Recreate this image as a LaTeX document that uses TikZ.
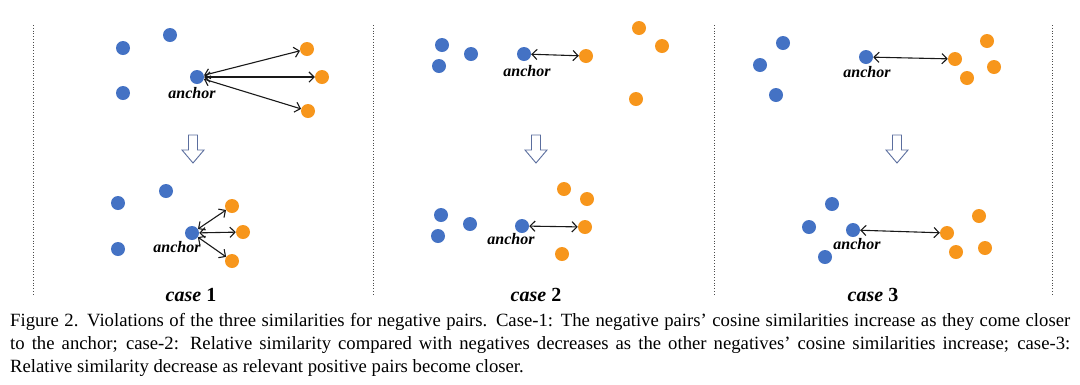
\documentclass[tikz,border=0pt]{standalone}
\usepackage{fontspec}
\setmainfont{Liberation Serif}
\usetikzlibrary{positioning,arrows.meta}
\definecolor{dotblue}{HTML}{4472C4}
\definecolor{dotorange}{HTML}{F7961C}
\definecolor{arrowgray}{HTML}{5B6E9E}

\begin{document}
\begin{tikzpicture}[x=1pt, y=-1pt,
    every node/.style={inner sep=0pt},
    posdot/.style={circle, fill=dotblue, minimum size=14pt},
    negdot/.style={circle, fill=dotorange, minimum size=14pt},
    pair/.style={{Straight Barb[length=1.8mm]}-{Straight Barb[length=1.8mm]}, line width=1.1pt, draw=black!90},
    tag/.style={font=\fontsize{16}{16}\selectfont\bfseries\itshape},
    casetag/.style={font=\fontsize{20}{20}\selectfont\bfseries},
    sep/.style={dotted, draw=black!70, line width=0.8pt},
    hollow/.style={draw=arrowgray, fill=white, line width=0.9pt},
  ]
  \useasboundingbox (0,0) rectangle (1080,384);

  % separators
  \foreach \x in {33,373,714,1052}
    \draw[sep] (\x,25) -- (\x,295);

  % down arrows
  \foreach \x in {193,536,897}
    \draw[hollow] (\x,135) ++(-4.5,0) -- ++(9,0) -- ++(0,15) -- ++(6.5,0)
      -- ++(-11,13) -- ++(-11,-13) -- ++(6.5,0) -- cycle;

  % case 1, before
  \node[posdot] (p1a) at (123,48) {};
  \node[posdot] (p1b) at (170,35) {};
  \node[posdot] (p1c) at (123,93) {};
  \node[posdot] (a1) at (197,77) {};
  \node[negdot] (n1a) at (307,49) {};
  \node[negdot] (n1b) at (322,77) {};
  \node[negdot] (n1c) at (308,111) {};
  \node[tag, below=3pt of a1, xshift=-5pt] (l1) {anchor};
  \draw[pair] (a1) -- (n1a);
  \draw[pair] (a1) -- (n1b);
  \draw[pair] (a1) -- (n1c);

  % case 1, after
  \node[posdot] (q1a) at (118,203) {};
  \node[posdot] (q1b) at (166,191) {};
  \node[posdot] (q1c) at (118,249) {};
  \node[posdot] (b1) at (192,233) {};
  \node[negdot] (m1a) at (232,206) {};
  \node[negdot] (m1b) at (243,232) {};
  \node[negdot] (m1c) at (232,261) {};
  \node[tag, below=1pt of b1, xshift=-15pt] (k1) {anchor};
  \draw[pair] (b1) -- (m1a);
  \draw[pair] (b1) -- (m1b);
  \draw[pair] (b1) -- (m1c);

  % case 2, before
  \node[posdot] (p2a) at (442,45) {};
  \node[posdot] (p2b) at (439,66) {};
  \node[posdot] (p2c) at (471,54) {};
  \node[posdot] (a2) at (524,54) {};
  \node[negdot] (n2a) at (586,56) {};
  \node[negdot] (n2b) at (639,28) {};
  \node[negdot] (n2c) at (662,46) {};
  \node[negdot] (n2d) at (636,99) {};
  \node[tag, below=4pt of a2, xshift=3pt] (l2) {anchor};
  \draw[pair] (a2) -- (n2a);

  % case 2, after
  \node[posdot] (q2a) at (441,215) {};
  \node[posdot] (q2b) at (438,236) {};
  \node[posdot] (q2c) at (470,224) {};
  \node[posdot] (b2) at (522,226) {};
  \node[negdot] (m2a) at (564,189) {};
  \node[negdot] (m2b) at (587,199) {};
  \node[negdot] (m2c) at (585,227) {};
  \node[negdot] (m2d) at (562,254) {};
  \node[tag, below=0pt of b2, xshift=-11pt] (k2) {anchor};
  \draw[pair] (b2) -- (m2c);

  % case 3, before
  \node[posdot] (p3a) at (783,43) {};
  \node[posdot] (p3b) at (760,65) {};
  \node[posdot] (p3c) at (776,95) {};
  \node[posdot] (a3) at (866,57) {};
  \node[negdot] (n3a) at (955,59) {};
  \node[negdot] (n3b) at (987,41) {};
  \node[negdot] (n3c) at (994,67) {};
  \node[negdot] (n3d) at (967,78) {};
  \node[tag, below=2pt of a3, xshift=1pt] (l3) {anchor};
  \draw[pair] (a3) -- (n3a);

  % case 3, after
  \node[posdot] (q3a) at (832,204) {};
  \node[posdot] (q3b) at (809,227) {};
  \node[posdot] (q3c) at (825,257) {};
  \node[posdot] (b3) at (853,230) {};
  \node[negdot] (m3a) at (947,233) {};
  \node[negdot] (m3b) at (979,216) {};
  \node[negdot] (m3c) at (956,252) {};
  \node[negdot] (m3d) at (985,248) {};
  \node[tag, below=1pt of b3, xshift=4pt] (k3) {anchor};
  \draw[pair] (b3) -- (m3a);

  \node[casetag] (case1) at (191,295) {\textit{case} 1};
  \node[casetag] (case2) at (536,295) {\textit{case} 2};
  \node[casetag] (case3) at (873,295) {\textit{case} 3};

  \node[anchor=north west, text width=1060pt, align=justify,
        font=\fontsize{18.7}{23}\selectfont] (caption) at (10,313)
    {Figure 2. Violations of the three similarities for negative pairs. Case-1: The negative pairs’ cosine similarities increase as they come closer\linebreak to the anchor; case-2: Relative similarity compared with negatives decreases as the other negatives’ cosine similarities increase; case-3:\linebreak Relative similarity decrease as relevant positive pairs become closer.};
\end{tikzpicture}
\end{document}
